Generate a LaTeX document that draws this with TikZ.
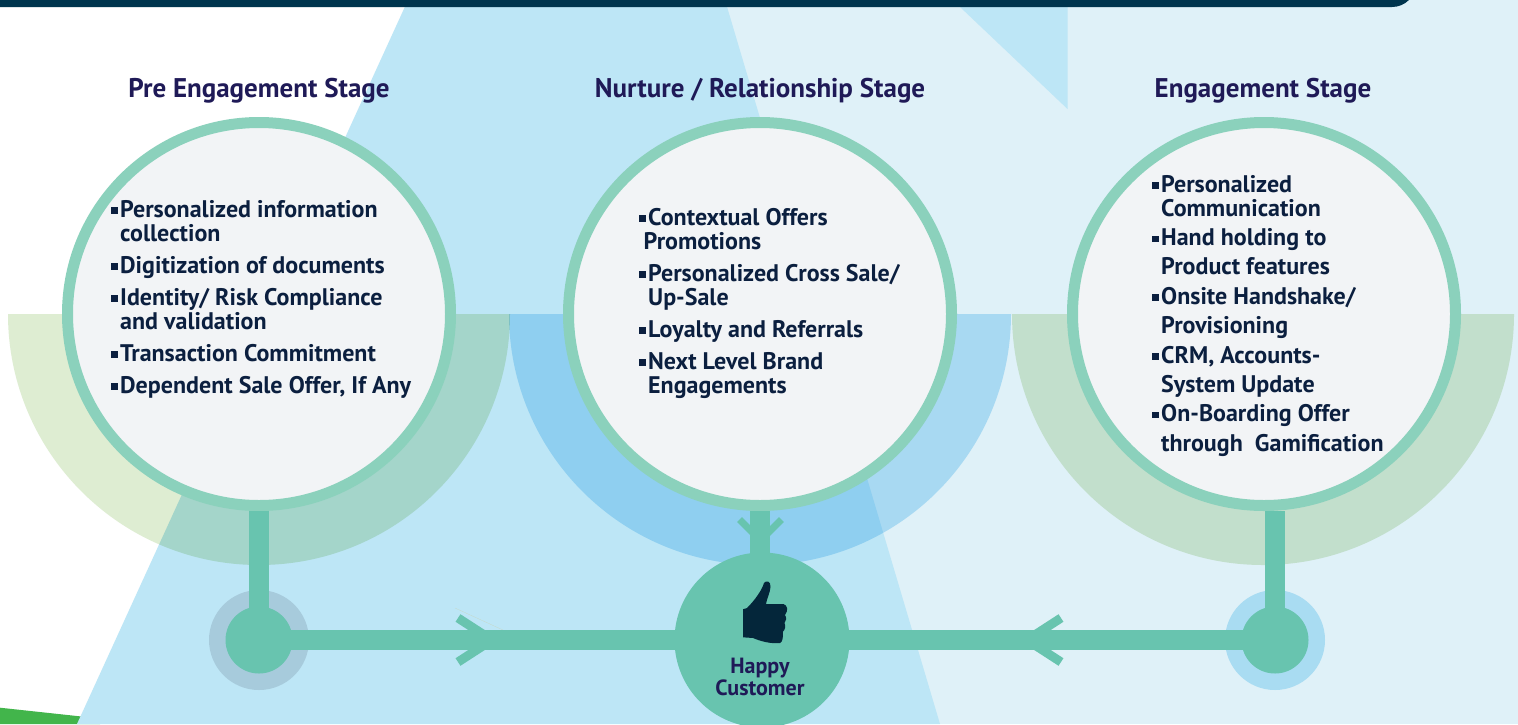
\documentclass[tikz,border=0pt]{standalone}
\usepackage{fontspec}
\setmainfont{PT Sans}
\usetikzlibrary{positioning}
\definecolor{barcol}{HTML}{00354E}
\definecolor{skyblue}{HTML}{BDE6F6}
\definecolor{paleblue}{HTML}{DFF1F8}
\definecolor{leafgreen}{HTML}{42B54B}
\definecolor{semigreen}{HTML}{DEEDD2}
\definecolor{semiblue}{HTML}{C1E6F9}
\definecolor{halogrey}{HTML}{A7CBDC}
\definecolor{haloblue}{HTML}{A9DCF2}
\definecolor{ringcol}{HTML}{8BD1BC}
\definecolor{discfill}{HTML}{F2F4F6}
\definecolor{stemcol}{HTML}{68C4AF}
\definecolor{titlecol}{HTML}{1F1A57}
\definecolor{bodycol}{HTML}{0B1F3F}
\definecolor{thumbcol}{HTML}{04263A}
\newcommand{\itm}{\raisebox{3.5pt}{\rule{6.5pt}{6.5pt}}\hspace{2.5pt}}
\newcommand{\ind}{\hspace{9pt}}
\begin{document}
\begin{tikzpicture}[
        x=1pt, y=-1pt,
        semi/.style={blend mode=multiply},
        stage/.style={circle, draw=ringcol, line width=11pt, fill=discfill, minimum size=383pt, inner sep=0pt},
        title/.style={font=\fontsize{27}{30}\selectfont\bfseries, text=titlecol, inner sep=0pt},
        list/.style={font=\fontsize{24}{24}\selectfont\bfseries, text=bodycol, align=left, anchor=north west, inner sep=0pt},
        dot/.style={circle, fill=stemcol, minimum size=67pt, inner sep=0pt},
        halo/.style={circle, minimum size=100pt, inner sep=0pt},
        stem/.style={stemcol, line width=20pt},
        chev/.style={stemcol, line width=7pt}
    ]
        \clip (0,0) rectangle (1518,724);
        % Background
        \fill[white] (0,0) rectangle (1518,724);
        \fill[paleblue] (700,0) rectangle (1518,724);
        \fill[leafgreen] (0,707.7) -- (100,718.5) -- (100,724) -- (0,724) -- cycle;
        \fill[skyblue] (408,0) -- (725,0) -- (940,724) -- (77,724) -- cycle;
        \fill[skyblue] (960,0) -- (1067.5,0) -- (1067.5,109) -- (960,7) -- cycle;
        \fill[barcol, rounded corners=24pt] (-40,-40) rectangle (1416,7);

        % Half discs
        \fill[semigreen, semi] (8,314) arc[start angle=180, end angle=0, radius=251];
        \fill[semiblue, semi] (509,314) arc[start angle=180, end angle=0, radius=251];
        \fill[semigreen, semi] (1012,314) arc[start angle=180, end angle=0, radius=251];

        % Chevrons
        \coordinate (pretip) at (492,640);
        \coordinate (engtip) at (1027,640);
        \coordinate (nurtip) at (760.5,540.5);
        \draw[chev, line width=9pt] (pretip) ++(-34,-22) -- (pretip) -- ++(-34,22);
        \draw[chev, line width=9pt] (engtip) ++(34,-22) -- (engtip) -- ++(34,22);
        \draw[chev] (nurtip) ++(-21,-21) -- (nurtip) -- ++(21,-21);
        \draw[semigreen!90!black, very thin] (455,608) -- (503,630);

        % Halos and dots
        \node[halo, fill=halogrey] (prehalo) at (259,640) {};
        \node[halo, fill=haloblue] (enghalo) at (1275,640) {};
        \node[dot] (predot) at (259,640) {};
        \node[dot] (engdot) at (1275,640) {};
        \node[dot, minimum size=175pt] (happy) at (762,640) {};

        % Stage circles
        \node[stage] (prering) at (259,314) {};
        \node[stage] (nurring) at (760,314) {};
        \node[stage] (engring) at (1264,314) {};

        % Connectors
        \draw[stem] (prering.south) -- (predot.center);
        \draw[stem] (nurring.south) -- (nurring.south |- happy.center);
        \draw[stem] (engdot |- engring.south) -- (engdot.center);
        \draw[stem] (predot.center) -- (happy.center);
        \draw[stem] (engdot.center) -- (happy.center);

        % Thumb
        \fill[thumbcol] (743,637.3) -- (743,609.3) -- (747,608) .. controls (755,600) and (762,590) .. (764,583)
            .. controls (766,580) and (771,581) .. (770.5,587) .. controls (770,593) and (767,598) .. (766,604)
            -- (783.4,604) .. controls (787,605) and (789,610) .. (785,615) .. controls (787,618) and (786,621) .. (784.5,623)
            .. controls (786,626) and (785,630) .. (783,631.5) .. controls (783,636) and (783,642) .. (780,643)
            .. controls (770,644) and (760,641) .. (753,638) -- cycle;

        % Titles
        \node[title] (pretitle) at (259,91) {Pre Engagement Stage};
        \node[title] (nurtitle) at (760,91) {Nurture / Relationship Stage};
        \node[title] (engtitle) at (1263,91) {Engagement Stage};

        % Lists
        \node[list] (prelist) at (111,200) {\itm Personalized information\\\ind collection\\[8pt]
            \itm Digitization of documents\\[8pt]\itm Identity/ Risk Compliance\\\ind and validation\\[8pt]
            \itm Transaction Commitment\\[8pt]\itm Dependent Sale Offer, If Any};
        \node[list] (nurlist) at (639,208) {\itm Contextual Offers\\\hspace{4.5pt}Promotions\\[8pt]
            \itm Personalized Cross Sale/\\\ind Up-Sale\\[8pt]\itm Loyalty and Referrals\\[8pt]
            \itm Next Level Brand\\\ind Engagements};
        \node[list] (englist) at (1152,175) {\itm Personalized\\\ind Communication\\[5.5pt]
            \itm Hand holding to\\[5pt]\ind Product features\\[5.5pt]\itm Onsite Handshake/\\[5.5pt]\ind Provisioning\\[5.5pt]
            \itm CRM, Accounts-\\[5pt]\ind System Update\\[5.5pt]\itm On-Boarding Offer\\[5.5pt]\ind through\ \ Gamification};

        % Happy label
        \node[font=\fontsize{22}{22}\selectfont\bfseries, text=titlecol, align=center, inner sep=0pt] (happylabel) at (760,677) {Happy\\Customer};
    \end{tikzpicture}
\end{document}
